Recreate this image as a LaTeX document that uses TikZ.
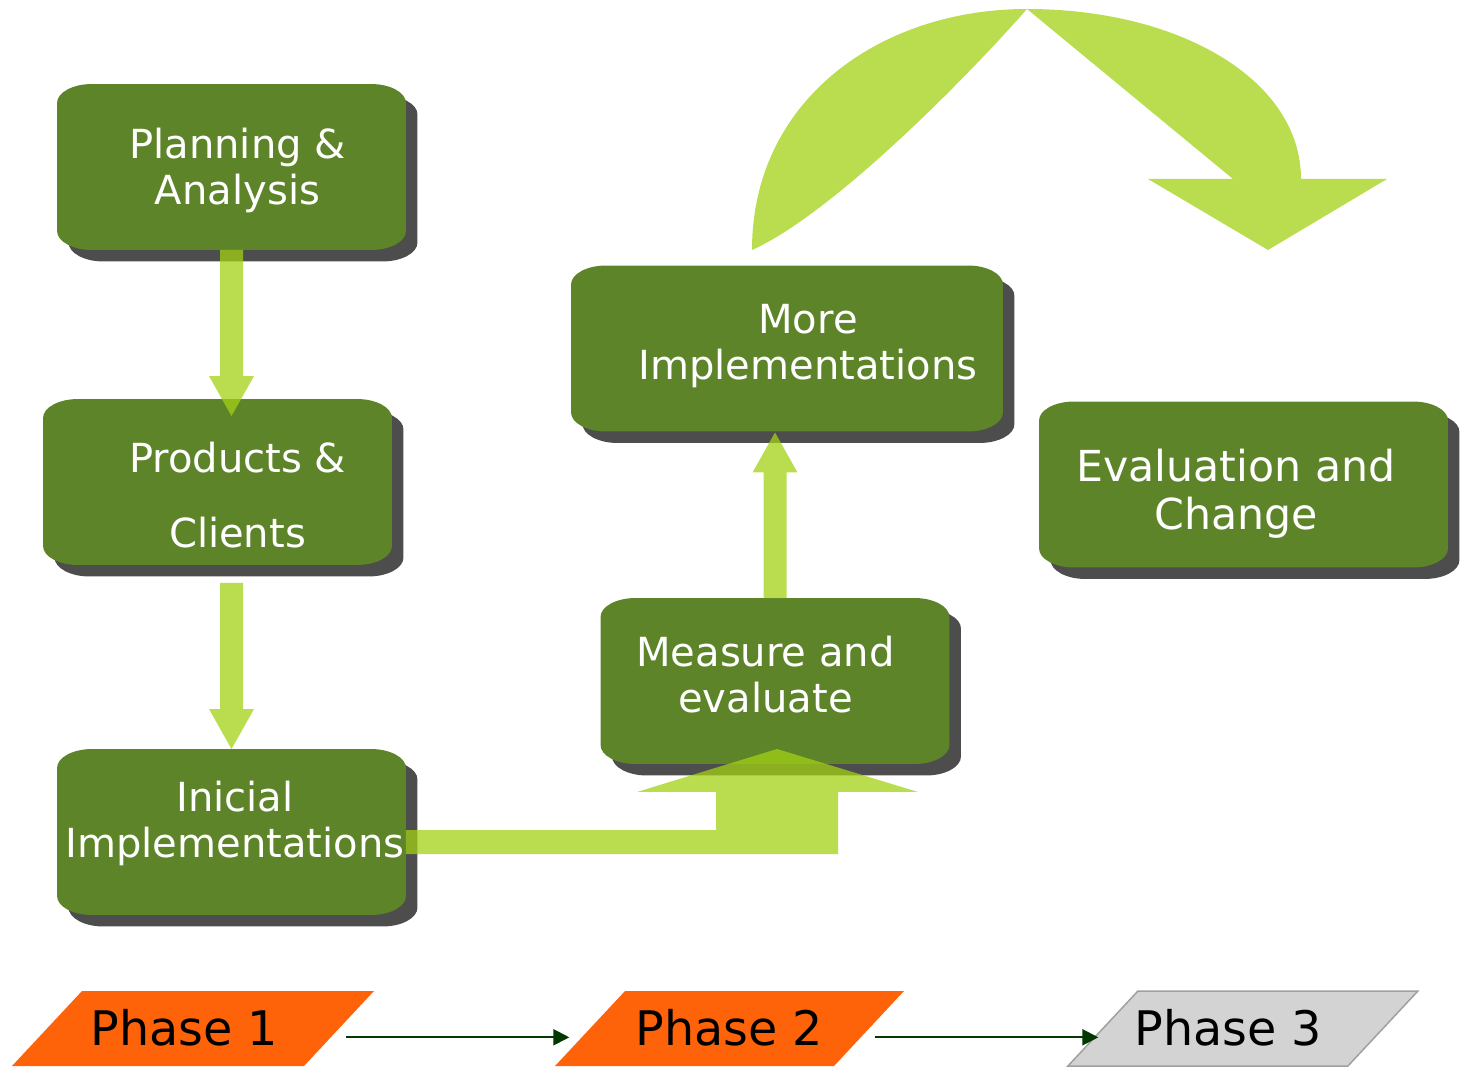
\documentclass[tikz,border=0pt]{standalone}
\usepackage{fontspec}
\setmainfont{DejaVu Sans}
\usetikzlibrary{calc,backgrounds,arrows.meta}

\definecolor{stagegreen}{RGB}{93,132,41}
\definecolor{shadowgray}{RGB}{77,77,77}
\definecolor{arrowlime}{RGB}{162,209,20}
\definecolor{phaseorange}{RGB}{255,99,9}
\definecolor{phasegray}{RGB}{211,211,211}
\definecolor{phaseedge}{RGB}{160,160,160}
\definecolor{flowgreen}{RGB}{0,56,0}

\tikzset{
	stage/.style={minimum width=#1, minimum height=3.32cm, inner sep=0pt, outer sep=0pt},
	stage/.default=6.98cm,
	stagetext/.style={text=white, align=center, inner sep=0pt, font=\fontsize{22.8pt}{26.2pt}\selectfont},
	phasetext/.style={text=black, inner sep=0pt, font=\fontsize{27.1pt}{30pt}\selectfont},
	blockarrow/.style={fill=arrowlime, fill opacity=.75},
	flow/.style={-{Triangle[length=0.32cm, width=0.32cm]}, line width=0.04cm, draw=flowgreen, fill=flowgreen},
}

% box behind a stage node, #2 moves it for the shadow
\newcommand{\stagebg}[3]{
	\fill [#3] ($(#1.north west)+(#2,#2+19)$) arc [start angle=180, end angle=90, x radius=0.7cm, y radius=0.38cm]
		-- ($(#1.north east)+(#2-35,#2)$) arc [start angle=90, end angle=0, x radius=0.7cm, y radius=0.38cm]
		-- ($(#1.south east)+(#2,#2-19)$) arc [start angle=0, end angle=-90, x radius=0.7cm, y radius=0.38cm]
		-- ($(#1.south west)+(#2+35,#2)$) arc [start angle=-90, end angle=-180, x radius=0.7cm, y radius=0.38cm]
		-- cycle;
}

% parallelogram behind a phase label
\newcommand{\phasebg}[4]{
	\path [#4] ($(#1)+(#2-#3-35,38.7)$) -- ($(#1)+(#2+#3-35,38.7)$) -- ($(#1)+(#2+#3+35,-36.3)$) -- ($(#1)+(#2-#3+35,-36.3)$) -- cycle;
}

% fat vertical arrow, #3 = 1 points down, -1 points up
\newcommand{\fatarrow}[3]{
	\fill [blockarrow] ($(#1)+(-11.5,0)$) -- ($(#2)+(-11.5,{-40*#3})$) -- ($(#2)+(-22.5,{-40*#3})$) -- (#2)
		-- ($(#2)+(22.5,{-40*#3})$) -- ($(#2)+(11.5,{-40*#3})$) -- ($(#1)+(11.5,0)$) -- cycle;
}

\begin{document}
\begin{tikzpicture}[x=0.02cm, y=-0.02cm]
	\useasboundingbox (0,0) rectangle (1466,1067);

	\node [stage] (plan) at (231.5,167) {};
	\node [stage] (prod) at (217.5,482) {};
	\node [stage] (init) at (231.5,832) {};
	\node [stage=8.64cm] (more) at (787,348.5) {};
	\node [stage] (meas) at (775,681) {};
	\node [stage=8.18cm] (eval) at (1243.5,484.5) {};

	\node [stagetext] (plantext) at (237.5,170) {Planning \&\\Analysis};
	\node [stagetext, font=\fontsize{22.8pt}{42.7pt}\selectfont] (prodtext) at (237.5,495.5) {Products \&\\Clients};
	\node [stagetext] (inittext) at (235,823.7) {Inicial\\Implementations};
	\node [stagetext] (moretext) at (808,346.3) {More\\Implementations};
	\node [stagetext] (meastext) at (765.5,674.5) {Measure and\\evaluate};
	\node [stagetext, font=\fontsize{24.3pt}{27.3pt}\selectfont] (evaltext) at (1236,493.8) {Evaluation and\\Change};

	\node [phasetext] (ph1) at (184.5,1027.3) {Phase 1};
	\node [phasetext] (ph2) at (729.5,1027.3) {Phase 2};
	\node [phasetext] (ph3) at (1228.5,1027.3) {Phase 3};

	\begin{scope}[on background layer]
	\stagebg{plan}{11.5}{shadowgray}
	\stagebg{prod}{11.5}{shadowgray}
	\stagebg{init}{11.5}{shadowgray}
	\stagebg{more}{11.5}{shadowgray}
	\stagebg{meas}{11.5}{shadowgray}
	\stagebg{eval}{11.5}{shadowgray}

	\stagebg{plan}{0}{stagegreen}
	\stagebg{prod}{0}{stagegreen}
	\stagebg{init}{0}{stagegreen}
	\stagebg{more}{0}{stagegreen}
	\stagebg{meas}{0}{stagegreen}
	\stagebg{eval}{0}{stagegreen}

	\phasebg{ph1}{8.5}{146}{fill=phaseorange}
	\phasebg{ph2}{0}{139.5}{fill=phaseorange}
	\phasebg{ph3}{14.4}{140}{fill=phasegray, draw=phaseedge, line width=0.03cm}
	\end{scope}

	\fatarrow{plan.south}{$(plan.south |- prod.north)+(0,17)$}{1}
	\fatarrow{$(plan.south |- prod.south)+(0,18)$}{plan.south |- init.north}{1}
	\fatarrow{meas.north}{$(meas.north |- more.south)+(0,1)$}{-1}

	\coordinate (ltip) at ($(meas.south)+(2,-15)$);
	\fill [blockarrow] ($(init.east)+(0,-2)$) -| ($(ltip)+(-61,43)$) -- ++(-79,0) -- (ltip) -- ($(ltip)+(141,43)$) -- ++(-80,0) |- ($(init.east)+(0,22)$) -- cycle;

	\fill [blockarrow] (752,250) .. controls (752,100) and (880,9) .. (1027,9)
		.. controls (1180,9) and (1301,80) .. (1301,179)
		-- (1387,179) -- (1268,250) -- (1148,179) -- (1233,179)
		-- (1027,9) .. controls (960,85) and (830,215) .. (752,250) -- cycle;

	\draw [flow] ([shift={(67.5,10)}]ph1.east) -- ([shift={(-66,10)}]ph2.west);
	\draw [flow] ([shift={(51,10)}]ph2.east) -- ([shift={(-36,10)}]ph3.west);
\end{tikzpicture}
\end{document}
